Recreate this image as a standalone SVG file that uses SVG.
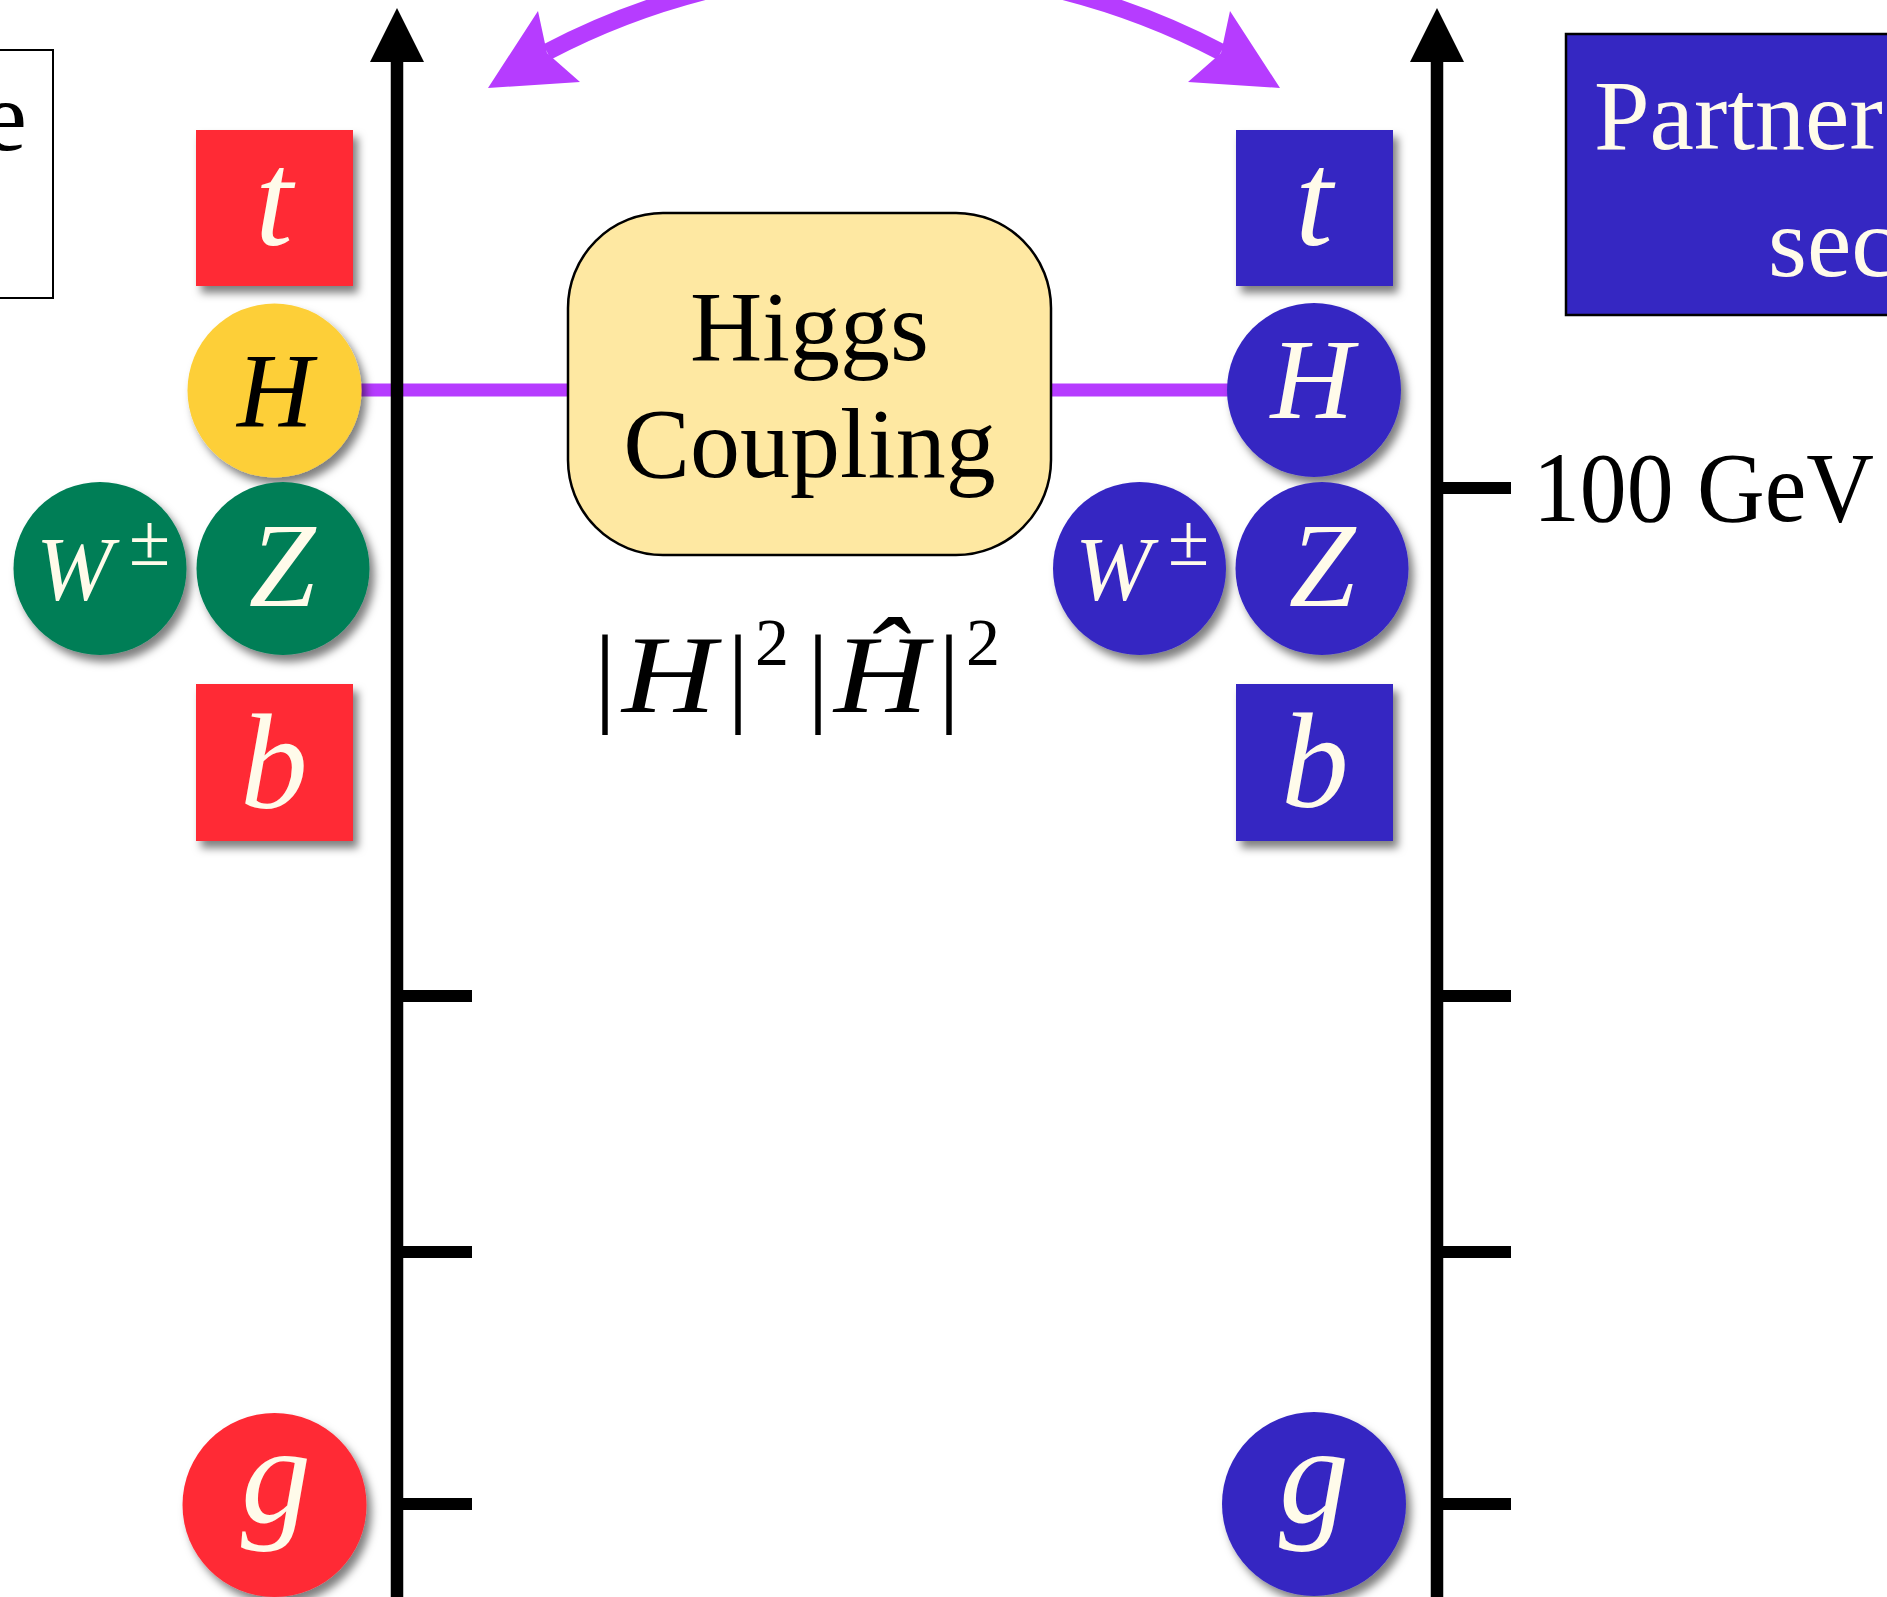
<svg xmlns="http://www.w3.org/2000/svg" width="1887" height="1597" viewBox="0 0 1887 1597">
<style>
.serif{font-family:"Liberation Serif","Times New Roman",serif}
.lbl{font-family:"Liberation Serif","Times New Roman",serif;font-style:italic;fill:#fffbea;text-anchor:middle}
.red{fill:#ff2936}
.blue{fill:#3527c2}
.green{fill:#017e57}
.yellow{fill:#fdcf39}
.axis{stroke:#000;stroke-width:12.5;fill:none}
.tick{stroke:#000;stroke-width:12;fill:none}
.head{fill:#000}
.plink{stroke:#b63cff;stroke-width:13;fill:none}
.parc{stroke:#b63cff;stroke-width:17;fill:none}
.phead{fill:#b63cff}
.big{font-size:100px;fill:#000}
</style>
<defs>
<filter id="sh" x="-20%" y="-20%" width="150%" height="150%">
<feDropShadow dx="5" dy="7" stdDeviation="4" flood-color="#000" flood-opacity="0.5"/>
</filter>
</defs>
<rect width="1887" height="1597" fill="#fff"/>

<g id="connectors">
<line class="plink" x1="355" y1="390" x2="570" y2="390"/>
<line class="plink" x1="1049" y1="390" x2="1232" y2="390"/>
<path class="parc" d="M547 52 A725 725 0 0 1 1221 52"/>
<polygon class="phead" points="488,88 580,82 547,53 538,11"/>
<polygon class="phead" points="1280,88 1188,82 1221,53 1230,11"/>
</g>

<g id="axis-left">
<line class="axis" x1="397" y1="58" x2="397" y2="1597"/>
<polygon class="head" points="397,8 424,62 370,62"/>
<line class="tick" x1="397" y1="996" x2="472" y2="996"/>
<line class="tick" x1="397" y1="1252" x2="472" y2="1252"/>
<line class="tick" x1="397" y1="1504" x2="472" y2="1504"/>
</g>

<g id="axis-right">
<line class="axis" x1="1437" y1="58" x2="1437" y2="1597"/>
<polygon class="head" points="1437,8 1464,62 1410,62"/>
<line class="tick" x1="1437" y1="488" x2="1511" y2="488"/>
<line class="tick" x1="1437" y1="996" x2="1511" y2="996"/>
<line class="tick" x1="1437" y1="1252" x2="1511" y2="1252"/>
<line class="tick" x1="1437" y1="1504" x2="1511" y2="1504"/>
<text class="serif big" x="1533" y="521" font-size="98" textLength="341" lengthAdjust="spacingAndGlyphs">100 GeV</text>
</g>

<g id="sm-box">
<rect x="-300" y="50" width="353" height="248" fill="#fff" stroke="#000" stroke-width="2"/>
<text class="serif big" x="27" y="150" text-anchor="end">e</text>
</g>

<g id="partner-box">
<rect x="1566" y="34" width="400" height="281" class="blue" stroke="#000" stroke-width="2.5"/>
<text class="serif" x="1594" y="149" font-size="100" fill="#fffbea">Partner</text>
<text class="serif" x="1768" y="276" font-size="100" fill="#fffbea">sec</text>
</g>

<g id="higgs-coupling">
<rect x="568" y="213" width="483" height="342" rx="95" ry="95" fill="#fee8a2" stroke="#000" stroke-width="2.5"/>
<text class="serif big" x="809.5" y="360" text-anchor="middle">Higgs</text>
<text class="serif big" x="809.5" y="477" text-anchor="middle">Coupling</text>
</g>

<g id="coupling-formula">
<text class="serif" font-size="110" fill="#000">
<tspan x="594" y="712">|</tspan><tspan x="622" y="712" font-style="italic" textLength="94" lengthAdjust="spacingAndGlyphs">H</tspan><tspan x="727" y="712">|</tspan><tspan x="755" y="665" font-size="68">2</tspan><tspan x="807" y="712">|</tspan><tspan x="834" y="712" font-style="italic" textLength="94" lengthAdjust="spacingAndGlyphs">Ĥ</tspan><tspan x="938" y="712">|</tspan><tspan x="966" y="665" font-size="68">2</tspan>
</text>
</g>

<g id="sm-t"><rect class="red" x="196" y="130" width="157" height="156" filter="url(#sh)"/><text class="lbl" x="274" y="245" font-size="135">t</text></g>
<g id="sm-H"><circle class="yellow" cx="274.5" cy="390.5" r="87" filter="url(#sh)"/><text class="lbl" x="275" y="426" font-size="105" fill="#000" style="fill:#000">H</text></g>
<g id="sm-W"><circle class="green" cx="100" cy="568.5" r="86.5" filter="url(#sh)"/><text class="lbl" x="36" y="600" font-size="92" text-anchor="start" style="text-anchor:start">W</text><text class="serif" x="129" y="565" font-size="75" fill="#fffbea">±</text></g>
<g id="sm-Z"><circle class="green" cx="283" cy="568.5" r="86.5" filter="url(#sh)"/><text class="lbl" x="282" y="606" font-size="120">Z</text></g>
<g id="sm-b"><rect class="red" x="196" y="684" width="157" height="157" filter="url(#sh)"/><text class="lbl" x="274" y="808" font-size="135">b</text></g>
<g id="sm-g"><circle class="red" cx="274.5" cy="1505" r="92" filter="url(#sh)"/><text class="lbl" x="276" y="1522" font-size="140">g</text></g>

<g id="p-t"><rect class="blue" x="1236" y="130" width="157" height="156" filter="url(#sh)"/><text class="lbl" x="1314" y="245" font-size="135">t</text></g>
<g id="p-H"><circle class="blue" cx="1314" cy="390" r="87" filter="url(#sh)"/><text class="lbl" x="1312" y="418" font-size="115">H</text></g>
<g id="p-W"><circle class="blue" cx="1139.5" cy="568.5" r="86.5" filter="url(#sh)"/><text class="lbl" x="1075" y="600" font-size="92" style="text-anchor:start">W</text><text class="serif" x="1168" y="565" font-size="75" fill="#fffbea">±</text></g>
<g id="p-Z"><circle class="blue" cx="1322" cy="568.5" r="86.5" filter="url(#sh)"/><text class="lbl" x="1322" y="606" font-size="120">Z</text></g>
<g id="p-b"><rect class="blue" x="1236" y="684" width="157" height="157" filter="url(#sh)"/><text class="lbl" x="1315" y="807" font-size="135">b</text></g>
<g id="p-g"><circle class="blue" cx="1314" cy="1504" r="92" filter="url(#sh)"/><text class="lbl" x="1314" y="1522" font-size="140">g</text></g>
</svg>
